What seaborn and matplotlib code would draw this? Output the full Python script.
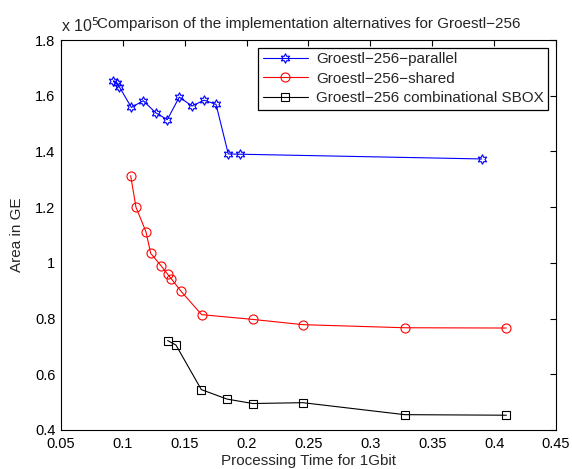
import numpy as np
import pandas as pd
import matplotlib
matplotlib.use("Agg")
import matplotlib.pyplot as plt
import seaborn as sns

# values (area in units of 1e5 GE)
par_time = [0.0923, 0.0950, 0.0971, 0.1069, 0.1165, 0.1265, 0.1359, 0.1456,
            0.1559, 0.1656, 0.1753, 0.1852, 0.1946, 0.3900]
par_area = [1.653, 1.645, 1.632, 1.558, 1.582, 1.539, 1.514, 1.595,
            1.563, 1.584, 1.569, 1.391, 1.390, 1.373]

sh_time = [0.1063, 0.1106, 0.1187, 0.1225, 0.1308, 0.1362, 0.1391, 0.1470,
           0.1637, 0.2048, 0.2457, 0.3277, 0.4099]
sh_area = [1.313, 1.200, 1.111, 1.034, 0.990, 0.959, 0.943, 0.898,
           0.814, 0.797, 0.778, 0.767, 0.766]

sb_time = [0.1362, 0.1429, 0.1634, 0.1841, 0.2049, 0.2455, 0.3277, 0.4099]
sb_area = [0.721, 0.705, 0.545, 0.511, 0.495, 0.498, 0.455, 0.453]

labels = ["Groestl\u2212256\u2212parallel", "Groestl\u2212256\u2212shared",
          "Groestl\u2212256 combinational SBOX"]

sns.set_style("white")
plt.rcParams["font.family"] = ["Liberation Sans", "DejaVu Sans"]
plt.rcParams["font.size"] = 10

fig = plt.figure(figsize=(5.72, 4.69), dpi=100)
ax = fig.add_axes([0.1066, 0.0832, 0.8654, 0.8315])

series = [
    (par_time, par_area, labels[0], "#0000ff", (6, 1, 0), 7),
    (sh_time, sh_area, labels[1], "#ff0000", "o", 6.5),
    (sb_time, sb_area, labels[2], "#000000", "s", 5.5),
]
for t, a, lab, col, mk, ms in series:
    df = pd.DataFrame({"time": t, "area": a})
    sns.lineplot(data=df, x="time", y="area", sort=False, ax=ax, label=lab,
                 color=col, marker=mk, markersize=ms, markerfacecolor="none",
                 markeredgecolor=col, markeredgewidth=0.8, linewidth=0.8)

ax.set_xlim(0.05, 0.45)
ax.set_ylim(0.4, 1.8)
ax.set_xticks(np.arange(0.05, 0.451, 0.05))
ax.set_xticklabels(["0.05", "0.1", "0.15", "0.2", "0.25", "0.3", "0.35", "0.4", "0.45"])
ax.set_yticks(np.arange(0.4, 1.81, 0.2))
ax.set_yticklabels(["0.4", "0.6", "0.8", "1", "1.2", "1.4", "1.6", "1.8"])
ax.tick_params(direction="in", length=4, width=0.8, top=True, right=True,
               labelsize=10.5, colors="black")
ax.tick_params(axis="x", pad=5)
ax.tick_params(axis="y", pad=4)
for s in ax.spines.values():
    s.set_color("black")
    s.set_linewidth(0.8)

ax.set_xlabel("Processing Time for 1Gbit", fontsize=11, labelpad=2)
ax.set_ylabel("Area in GE", fontsize=11, labelpad=8)
ax.set_title("Comparison of the implementation alternatives for Groestl\u2212256",
             fontsize=11, pad=9)
ax.text(0.0, 1.014, "x 10$^5$", transform=ax.transAxes, fontsize=11.5,
        ha="left", va="bottom")

leg = ax.legend(loc="upper right", fontsize=11, frameon=True, fancybox=False,
                edgecolor="black", borderaxespad=0.5, handlelength=3.0,
                handletextpad=0.5, labelspacing=0.35, borderpad=0.3,
                framealpha=1)
leg.get_frame().set_linewidth(0.9)

fig.savefig("out.png", dpi=100)
